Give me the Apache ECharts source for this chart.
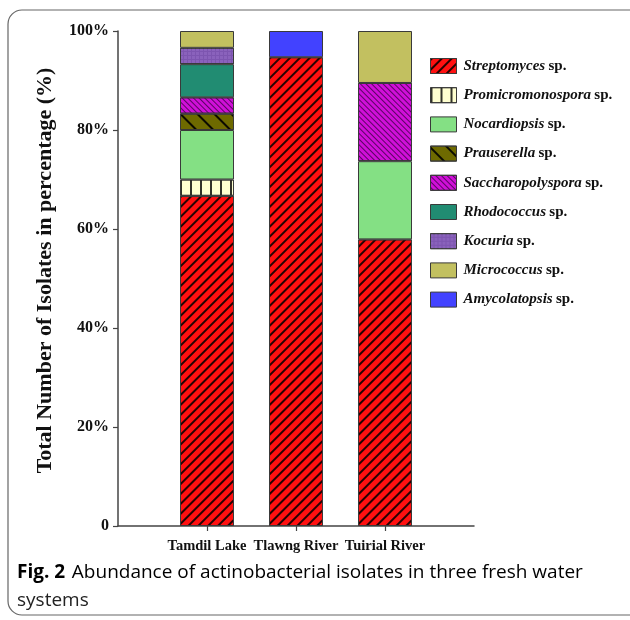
<!DOCTYPE html>
<html>
<head>
<meta charset="utf-8">
<script src="https://cdn.jsdelivr.net/npm/echarts@6/dist/echarts.min.js"></script>
<style>html,body{margin:0;padding:0;background:#fff}#c{width:630px;height:620px}</style>
</head>
<body>
<div id="c"></div>
<script>
const categories = ['Tamdil Lake', 'Tlawng River', 'Tuirial River'];
const yTicks = ['0', '20%', '40%', '60%', '80%', '100%'];
const streptomyces = [66.7, 94.7, 57.9];
const promicromonospora = [3.3, null, null];
const nocardiopsis = [10.0, null, 15.8];
const prauserella = [3.3, null, null];
const saccharopolyspora = [3.3, null, 15.8];
const rhodococcus = [6.7, null, null];
const kocuria = [3.3, null, null];
const micrococcus = [3.4, null, 10.5];
const amycolatopsis = [null, 5.3, null];
const yTitle = 'Total Number of Isolates in percentage (%)';

const seriesDefs = [
  {name: 'Streptomyces', data: streptomyces, color: '#ff1010',
   decal: {symbol: 'rect', symbolSize: 1, dashArrayX: [1, 0], dashArrayY: [1.2, 4.8], rotation: -Math.PI / 4, color: 'rgba(0,0,0,0.85)'}},
  {name: 'Promicromonospora', data: promicromonospora, color: '#ffffd0',
   decal: {symbol: 'rect', symbolSize: 1, dashArrayX: [1.2, 8], dashArrayY: [10, 0], rotation: 0, color: 'rgba(0,0,0,0.8)'}},
  {name: 'Nocardiopsis', data: nocardiopsis, color: '#84e084', decal: null},
  {name: 'Prauserella', data: prauserella, color: '#6e6a00',
   decal: {symbol: 'rect', symbolSize: 1, dashArrayX: [1, 0], dashArrayY: [1.2, 10], rotation: Math.PI / 4, color: 'rgba(0,0,0,0.9)'}},
  {name: 'Saccharopolyspora', data: saccharopolyspora, color: '#d010d8',
   decal: {symbol: 'rect', symbolSize: 1, dashArrayX: [1, 0], dashArrayY: [1, 2.2], rotation: Math.PI / 4, color: 'rgba(60,0,70,0.8)'}},
  {name: 'Rhodococcus', data: rhodococcus, color: '#218c72', decal: null},
  {name: 'Kocuria', data: kocuria, color: '#7d55b0',
   decal: {symbol: 'rect', symbolSize: 1, dashArrayX: [[3, 1]], dashArrayY: [3, 1], rotation: 0, color: 'rgba(140,100,190,0.9)'}},
  {name: 'Micrococcus', data: micrococcus, color: '#c2c060', decal: null},
  {name: 'Amycolatopsis', data: amycolatopsis, color: '#4242ff', decal: null}
];

const axisCats = [''].concat(categories).concat(['']);

const series = seriesDefs.map(s => {
  const itemStyle = {color: s.color, borderColor: '#3a3a3a', borderWidth: 1};
  if (s.decal) itemStyle.decal = s.decal;
  return {
    name: s.name,
    type: 'bar',
    stack: 'total',
    barWidth: 54,
    data: [null].concat(s.data).concat([null]),
    itemStyle: itemStyle,
    emphasis: {disabled: true},
    animation: false
  };
});

const chart = echarts.init(document.getElementById('c'), null, {renderer: 'canvas'});
chart.setOption({
  animation: false,
  grid: {left: 118, top: 31, right: 156, bottom: 94},
  xAxis: {
    type: 'category',
    data: axisCats,
    boundaryGap: false,
    axisLine: {lineStyle: {color: '#444', width: 1.5}},
    axisTick: {length: 5, lineStyle: {color: '#444', width: 1.2}, interval: (i, v) => v !== ''},
    axisLabel: {interval: 0, margin: 13, fontFamily: 'Liberation Serif', fontWeight: 'bold', fontSize: 14.5, color: '#111'},
    splitLine: {show: false}
  },
  yAxis: {
    type: 'value',
    min: 0, max: 100, interval: 20,
    name: yTitle,
    nameLocation: 'middle',
    nameGap: 62,
    nameTextStyle: {fontFamily: 'Liberation Serif', fontWeight: 'bold', fontSize: 22, color: '#111', padding: [0, 0, 0, 16]},
    axisLine: {show: true, lineStyle: {color: '#444', width: 1.5}},
    axisTick: {show: true, length: 5, lineStyle: {color: '#444', width: 1.2}},
    axisLabel: {margin: 9, fontFamily: 'Liberation Serif', fontWeight: 'bold', fontSize: 16, color: '#111',
      formatter: v => yTicks[Math.round(v / 20)]},
    splitLine: {show: false}
  },
  legend: {
    orient: 'vertical',
    left: 430, top: 58,
    padding: 0,
    itemWidth: 26, itemHeight: 15, itemGap: 13.2,
    icon: 'rect',
    data: seriesDefs.map(s => s.name),
    formatter: n => '{i|' + n + '} {n|sp.}',
    textStyle: {
      padding: [0, 0, 0, 2],
      rich: {
        i: {fontFamily: 'Liberation Serif', fontStyle: 'italic', fontWeight: 'bold', fontSize: 15, color: '#111'},
        n: {fontFamily: 'Liberation Serif', fontWeight: 'bold', fontSize: 15, color: '#111'}
      }
    },
    itemStyle: {borderColor: '#3a3a3a', borderWidth: 1},
    selectedMode: false
  },
  graphic: [
    {type: 'rect', z: -10, silent: true, shape: {x: 8, y: 10, width: 640, height: 605, r: 14},
     style: {fill: 'none', stroke: '#666', lineWidth: 1.2}},
    {type: 'text', left: 17, top: 563, silent: true,
     style: {text: '{b|Fig. 2}  {r|Abundance of actinobacterial isolates in three fresh water}',
       rich: {b: {fontFamily: 'Open Sans', fontWeight: 'bold', fontSize: 19, color: '#222'},
              r: {fontFamily: 'Open Sans', fontSize: 19, color: '#222'}}}},
    {type: 'text', left: 17, top: 591, silent: true,
     style: {text: 'systems', fontFamily: 'Open Sans', fontSize: 19, fill: '#222'}}
  ],
  series: series
});
</script>
</body>
</html>
